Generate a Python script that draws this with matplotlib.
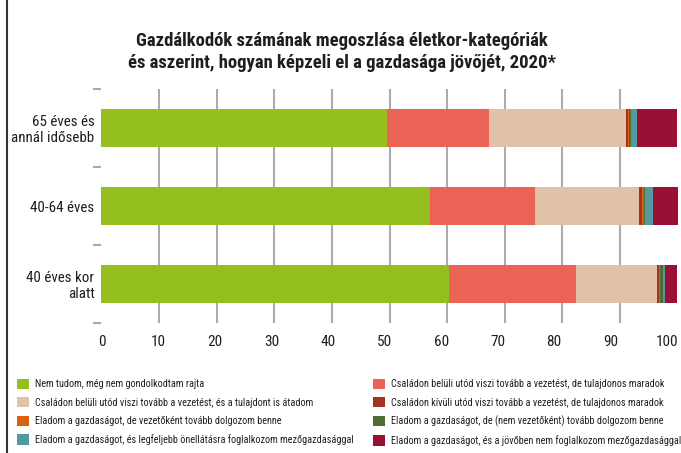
import matplotlib
matplotlib.use("Agg")
import matplotlib.pyplot as plt
import numpy as np
from matplotlib.patches import Patch, Rectangle
from matplotlib import font_manager as fm

categories = ["65 éves és\nannál idősebb", "40-64 éves", "40 éves kor\nalatt"]
series_names = [
    "Nem tudom, még nem gondolkodtam rajta",
    "Családon belüli utód viszi tovább a vezetést, de tulajdonos maradok",
    "Családon belüli utód viszi tovább a vezetést, és a tulajdont is átadom",
    "Családon kívüli utód viszi tovább a vezetést, de tulajdonos maradok",
    "Eladom a gazdaságot, de vezetőként tovább dolgozom benne",
    "Eladom a gazdaságot, de (nem vezetőként) tovább dolgozom benne",
    "Eladom a gazdaságot, és legfeljebb önellátásra foglalkozom mezőgazdasággal",
    "Eladom a gazdaságot, és a jövőben nem foglalkozom mezőgazdasággal",
]
nem_tudom = [49.6, 57.0, 60.3]
belul_tulaj = [17.7, 18.2, 22.1]
belul_atadom = [23.8, 18.1, 14.1]
kivul = [0.35, 0.52, 0.30]
elad_vezeto = [0.17, 0.30, 0.23]
elad_nem_vezeto = [0.35, 0.17, 0.35]
onellatas = [1.04, 1.45, 0.52]
nem_foglalkozom = [6.94, 4.3, 2.08]
series = [nem_tudom, belul_tulaj, belul_atadom, kivul, elad_vezeto,
          elad_nem_vezeto, onellatas, nem_foglalkozom]
colors = ["#95bf1f", "#eb6354", "#dfc2a8", "#a33423", "#d9620f",
          "#4a6e34", "#5399a0", "#9a1035"]
xticks = list(range(0, 101, 10))


def find_font(bold):
    fl = fm.fontManager.ttflist
    prefs = ['Roboto Condensed', 'Liberation Sans Narrow', 'Open Sans Condensed']
    for name in prefs:
        for f in fl:
            if f.name == name and ((f.weight in ('bold', 700)) == bold) and f.style == 'normal':
                return f.fname, True
    for f in fl:
        fn = f.fname.lower()
        if 'dejavusanscondensed' in fn.replace('-', '').replace('_', ''):
            isb = 'bold' in fn
            if isb == bold and 'oblique' not in fn:
                return f.fname, True
    return None, False


reg_path, cond = find_font(False)
bold_path, cond_b = find_font(True)
scale = 1.0 if cond else 0.8


def fp(bold, size):
    path = bold_path if bold else reg_path
    if path:
        return fm.FontProperties(fname=path, size=size)
    return fm.FontProperties(family='DejaVu Sans', weight='bold' if bold else 'normal', size=size)


fig = plt.figure(figsize=(6.81, 4.53), dpi=100)
ax = fig.add_axes([101.4/681, 1-323/453, (677.6-101.4)/681, (323-89)/453])

y = np.arange(len(categories))
left = np.zeros(len(categories))
for vals, c in zip(series, colors):
    ax.barh(y, vals, left=left, height=0.48, color=c, zorder=3)
    left += np.array(vals)

ax.set_xlim(0, 100)
ax.set_ylim(len(categories)-0.5, -0.5)
for v in xticks[1:-1]:
    ax.axvline(v, color="#ababab", lw=1.5, zorder=1)
ax.set_xticks([])
ax.set_yticks(y)
ax.set_yticklabels(categories, color="#1e1e1e", linespacing=1.15)
for t in ax.get_yticklabels():
    t.set_fontproperties(fp(False, 10.8*scale))
ax.set_yticks(np.arange(-0.5, len(categories), 1.0), minor=True)
ax.tick_params(axis='y', which='major', length=0, pad=5)
ax.tick_params(axis='y', which='minor', length=6, width=1.5, color="#ababab", direction='out')
for s in ax.spines.values():
    s.set_visible(False)

sec = ax.secondary_xaxis('bottom', functions=(lambda x: (x-0.1)/0.981, lambda v: 0.1+0.981*v))
sec.set_xticks(xticks)
sec.tick_params(length=0, pad=9, labelcolor="#1e1e1e")
for t in sec.get_xticklabels():
    t.set_fontproperties(fp(False, 11*scale))
for s in sec.spines.values():
    s.set_visible(False)

fig.text(341.5/681, 1-52/453, "Gazdálkodók számának megoszlása életkor-kategóriák\nés aszerint, hogyan képzeli el a gazdasága jövőjét, 2020*",
         ha='center', va='center', fontproperties=fp(True, 13.4*scale), color="#1e1e1e", linespacing=1.33)

fig.add_artist(Rectangle((6.5/681, -0.2), 1.2, 1.2 + (1-12.7/453), transform=fig.transFigure,
                         fill=False, edgecolor="#333333", lw=1.5, clip_on=False))

handles = [Patch(facecolor=c, edgecolor='none') for c in colors]
order1 = [0, 2, 4, 6]
order2 = [1, 3, 5, 7]
kw = dict(frameon=False, prop=fp(False, 7.3*scale), handlelength=1.2, handleheight=1.2,
          handletextpad=0.6, labelspacing=0.78, borderaxespad=0, borderpad=0, labelcolor="#1e1e1e")
fig.legend([handles[i] for i in order1], [series_names[i] for i in order1],
           loc='upper left', bbox_to_anchor=(17/681, 1-378.5/453), **kw)
fig.legend([handles[i] for i in order2], [series_names[i] for i in order2],
           loc='upper left', bbox_to_anchor=(373/681, 1-378.5/453), **kw)

fig.savefig("out.png", dpi=100)
